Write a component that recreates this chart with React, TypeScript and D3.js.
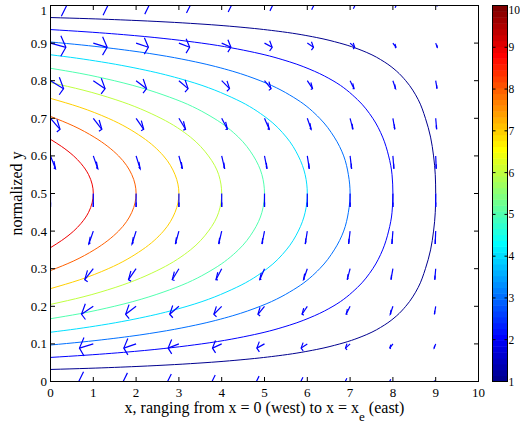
import React from "react";
import * as d3 from "d3";

// axis ticks
const X_TICKS = [0, 1, 2, 3, 4, 5, 6, 7, 8, 9, 10];
const Y_TICKS = [0, 0.1, 0.2, 0.3, 0.4, 0.5, 0.6, 0.7, 0.8, 0.9, 1];
const CBAR_TICKS = [1, 2, 3, 4, 5, 6, 7, 8, 9, 10];

// contour levels and their [x, y] paths
const LEVELS = [1, 2, 3, 4, 5, 6, 7, 8, 9];
const CONTOUR_1 = [[0,0.032],[0.88,0.035],[2.02,0.04],[2.9,0.045],[3.61,0.05],[4.66,0.06],[5.42,0.07],[6.21,0.085],[6.76,0.1],[7.39,0.125],[7.8,0.15],[8.09,0.175],[8.3,0.2],[8.59,0.25],[8.76,0.3],[8.88,0.35],[8.95,0.4],[8.99,0.45],[9,0.5],[8.99,0.55],[8.95,0.6],[8.88,0.65],[8.76,0.7],[8.59,0.75],[8.3,0.8],[8.09,0.825],[7.8,0.85],[7.39,0.875],[6.76,0.9],[6.21,0.915],[5.42,0.93],[4.66,0.94],[3.61,0.95],[2.9,0.955],[2.02,0.96],[0.88,0.965],[0,0.968]];
const CONTOUR_2 = [[0,0.064],[0.83,0.07],[1.96,0.08],[2.83,0.09],[3.53,0.1],[4.77,0.125],[5.59,0.15],[6.17,0.175],[6.6,0.2],[7.17,0.25],[7.53,0.3],[7.76,0.35],[7.9,0.4],[7.98,0.45],[8,0.5],[7.98,0.55],[7.9,0.6],[7.76,0.65],[7.53,0.7],[7.17,0.75],[6.6,0.8],[6.17,0.825],[5.59,0.85],[4.77,0.875],[3.53,0.9],[2.83,0.91],[1.96,0.92],[0.83,0.93],[0,0.936]];
const CONTOUR_3 = [[0,0.097],[0.73,0.105],[1.85,0.12],[2.71,0.135],[3.39,0.15],[4.26,0.175],[4.9,0.2],[5.76,0.25],[6.29,0.3],[6.63,0.35],[6.85,0.4],[6.96,0.45],[7,0.5],[6.96,0.55],[6.85,0.6],[6.63,0.65],[6.29,0.7],[5.76,0.75],[4.9,0.8],[4.26,0.825],[3.39,0.85],[2.71,0.865],[1.85,0.88],[0.73,0.895],[0,0.903]];
const CONTOUR_4 = [[0,0.131],[0.61,0.14],[1.19,0.15],[2.34,0.175],[3.19,0.2],[4.34,0.25],[5.06,0.3],[5.51,0.35],[5.79,0.4],[5.95,0.45],[6,0.5],[5.95,0.55],[5.79,0.6],[5.51,0.65],[5.06,0.7],[4.34,0.75],[3.19,0.8],[2.34,0.825],[1.19,0.85],[0.61,0.86],[0,0.869]];
const CONTOUR_5 = [[0,0.167],[0.67,0.18],[1.49,0.2],[2.93,0.25],[3.82,0.3],[4.39,0.35],[4.74,0.4],[4.94,0.45],[5,0.5],[4.94,0.55],[4.74,0.6],[4.39,0.65],[3.82,0.7],[2.93,0.75],[1.49,0.8],[0.67,0.82],[0,0.833]];
const CONTOUR_6 = [[0,0.205],[0.76,0.225],[1.51,0.25],[2.58,0.3],[3.27,0.35],[3.69,0.4],[3.93,0.45],[4,0.5],[3.93,0.55],[3.69,0.6],[3.27,0.65],[2.58,0.7],[1.51,0.75],[0.76,0.775],[0,0.795]];
const CONTOUR_7 = [[0,0.247],[0.67,0.27],[1.35,0.3],[2.14,0.35],[2.64,0.4],[2.91,0.45],[3,0.5],[2.91,0.55],[2.64,0.6],[2.14,0.65],[1.35,0.7],[0.67,0.73],[0,0.753]];
const CONTOUR_8 = [[0,0.295],[0.53,0.32],[1.02,0.35],[1.59,0.4],[1.9,0.45],[2,0.5],[1.9,0.55],[1.59,0.6],[1.02,0.65],[0.53,0.68],[0,0.705]];
const CONTOUR_9 = [[0,0.356],[0.26,0.375],[0.54,0.4],[0.71,0.42],[0.89,0.45],[1,0.5],[0.89,0.55],[0.71,0.58],[0.54,0.6],[0.26,0.625],[0,0.644]];
const CONTOURS = [CONTOUR_1, CONTOUR_2, CONTOUR_3, CONTOUR_4, CONTOUR_5, CONTOUR_6, CONTOUR_7, CONTOUR_8, CONTOUR_9];

// quiver grid and velocity components (rows = y from 0 to 1, cols = x from 0 to 9)
const GRID_X = [0, 1, 2, 3, 4, 5, 6, 7, 8, 9];
const GRID_Y = [0, 0.1, 0.2, 0.3, 0.4, 0.5, 0.6, 0.7, 0.8, 0.9, 1];
const U_ROWS = [
  [-31.4, -28.3, -25.1, -22.0, -18.8, -15.7, -12.6, -9.4, -6.3, -3.1],
  [-29.9, -26.9, -23.9, -20.9, -17.9, -14.9, -12.0, -9.0, -6.0, -3.0],
  [-25.4, -22.9, -20.3, -17.8, -15.2, -12.7, -10.2, -7.6, -5.1, -2.5],
  [-18.5, -16.6, -14.8, -12.9, -11.1, -9.2, -7.4, -5.5, -3.7, -1.8],
  [-9.7, -8.7, -7.8, -6.8, -5.8, -4.9, -3.9, -2.9, -1.9, -1.0],
  [0, 0, 0, 0, 0, 0, 0, 0, 0, 0],
  [9.7, 8.7, 7.8, 6.8, 5.8, 4.9, 3.9, 2.9, 1.9, 1.0],
  [18.5, 16.6, 14.8, 12.9, 11.1, 9.2, 7.4, 5.5, 3.7, 1.8],
  [25.4, 22.9, 20.3, 17.8, 15.2, 12.7, 10.2, 7.6, 5.1, 2.5],
  [29.9, 26.9, 23.9, 20.9, 17.9, 14.9, 12.0, 9.0, 6.0, 3.0],
  [31.4, 28.3, 25.1, 22.0, 18.8, 15.7, 12.6, 9.4, 6.3, 3.1],
];
const V_ROWS = [0, -0.93, -1.76, -2.43, -2.85, -3.0, -2.85, -2.43, -1.76, -0.93, 0];

const QUIVER_SCALE = 0.01203;
const HEAD_ALPHA = 0.33;
const HEAD_BETA = 0.23;

const FONT = "'Liberation Serif', 'Times New Roman', serif";

// MATLAB jet(64), 1-based index
function jet64(i: number): string {
  let r = 0, g = 0, b = 0;
  if (i <= 8) b = 0.5 + i / 16;
  else if (i <= 24) { g = (i - 8) / 16; b = 1; }
  else if (i <= 40) { r = (i - 24) / 16; g = 1; b = 1 - (i - 24) / 16; }
  else if (i <= 56) { r = 1; g = 1 - (i - 40) / 16; }
  else r = 1 - (i - 56) / 16;
  return d3.rgb(r * 255, g * 255, b * 255).formatHex();
}

function levelColor(v: number): string {
  const idx = Math.min(64, Math.floor(((v - 1) / 9) * 64) + 1);
  return jet64(idx);
}

export default function App() {
  const left = 50.5, right = 478.5, top = 5.5, bottom = 381.5;
  const x = d3.scaleLinear().domain([0, 10]).range([left, right]);
  const y = d3.scaleLinear().domain([0, 1]).range([bottom, top]);

  const cbLeft = 492.5, cbRight = 507.5;
  const c = d3.scaleLinear().domain([1, 10]).range([bottom, top]);

  const line = d3
    .line<number[]>()
    .x((d) => x(d[0]))
    .y((d) => y(d[1]))
    .curve(d3.curveMonotoneY);

  const tick = 4.5;

  // quiver arrows, heads in data units like MATLAB's quiver
  const arrows: { shaft: string; head: string }[] = [];
  GRID_Y.forEach((gy, r) => {
    GRID_X.forEach((gx, k) => {
      const du = U_ROWS[r][k] * QUIVER_SCALE;
      const dv = V_ROWS[r] * QUIVER_SCALE;
      const tx = gx + du, ty = gy + dv;
      const b1x = tx - HEAD_ALPHA * (du + HEAD_BETA * dv);
      const b1y = ty - HEAD_ALPHA * (dv - HEAD_BETA * du);
      const b2x = tx - HEAD_ALPHA * (du - HEAD_BETA * dv);
      const b2y = ty - HEAD_ALPHA * (dv + HEAD_BETA * du);
      arrows.push({
        shaft: `M${x(gx)},${y(gy)}L${x(tx)},${y(ty)}`,
        head: `M${x(b1x)},${y(b1y)}L${x(tx)},${y(ty)}L${x(b2x)},${y(b2y)}`,
      });
    });
  });

  const bands = d3.range(64);

  return (
    <div style={{ position: "absolute", left: 0, top: 0 }}>
      <svg width={520} height={427} style={{ display: "block", background: "#fff" }} fontFamily={FONT}>
        <defs>
          <clipPath id="plot-clip">
            <rect x={left} y={top} width={right - left} height={bottom - top} />
          </clipPath>
        </defs>

        <g clipPath="url(#plot-clip)">
          {CONTOURS.map((pts, i) => (
            <path key={i} d={line(pts) || ""} fill="none" stroke={levelColor(LEVELS[i])} strokeWidth={1} />
          ))}
          {arrows.map((a, i) => (
            <g key={i} stroke="#0000ff" strokeWidth={1.2} fill="none">
              <path d={a.shaft} />
              <path d={a.head} />
            </g>
          ))}
        </g>

        {/* axes box */}
        <rect x={left} y={top} width={right - left} height={bottom - top} fill="none" stroke="#000" strokeWidth={1} />
        {X_TICKS.map((t) => (
          <g key={"x" + t}>
            <line x1={x(t)} x2={x(t)} y1={bottom} y2={bottom - tick} stroke="#000" />
            <line x1={x(t)} x2={x(t)} y1={top} y2={top + tick} stroke="#000" />
            <text x={x(t)} y={397} fontSize={13} textAnchor="middle">{t}</text>
          </g>
        ))}
        {Y_TICKS.map((t) => (
          <g key={"y" + t}>
            <line x1={left} x2={left + tick} y1={y(t)} y2={y(t)} stroke="#000" />
            <line x1={right} x2={right - tick} y1={y(t)} y2={y(t)} stroke="#000" />
            <text x={47} y={Math.max(y(t), 10)} dy="0.35em" fontSize={13} textAnchor="end">{String(+t.toFixed(1))}</text>
          </g>
        ))}

        <text x={(left + right) / 2} y={413} fontSize={16} textAnchor="middle">
          x, ranging from x = 0 (west) to x = x<tspan dy={8} fontSize={13}>e</tspan>
          <tspan dy={-8}> (east)</tspan>
        </text>
        <text transform={`translate(22,${(top + bottom) / 2}) rotate(-90)`} fontSize={16} textAnchor="middle">
          normalized y
        </text>

        {/* colorbar */}
        {bands.map((i) => (
          <rect
            key={"cb" + i}
            x={cbLeft}
            y={c(1 + ((i + 1) * 9) / 64)}
            width={cbRight - cbLeft}
            height={c(1 + (i * 9) / 64) - c(1 + ((i + 1) * 9) / 64) + 0.5}
            fill={jet64(i + 1)}
          />
        ))}
        <rect x={cbLeft} y={top} width={cbRight - cbLeft} height={bottom - top} fill="none" stroke="#000" />
        {CBAR_TICKS.map((t) => (
          <g key={"c" + t}>
            <line x1={cbLeft} x2={cbLeft + 3} y1={c(t)} y2={c(t)} stroke="#000" />
            <line x1={cbRight} x2={cbRight - 3} y1={c(t)} y2={c(t)} stroke="#000" />
            <text x={508.5} y={Math.max(c(t), 10)} dy="0.35em" fontSize={11.5}>{t}</text>
          </g>
        ))}
      </svg>
    </div>
  );
}
